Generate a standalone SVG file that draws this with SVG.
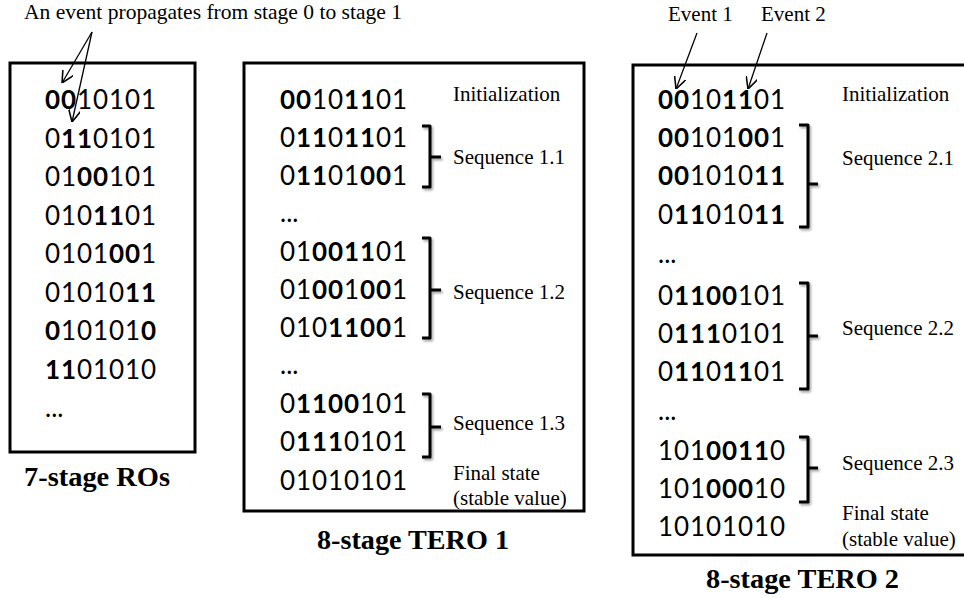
<svg xmlns="http://www.w3.org/2000/svg" width="964" height="598" viewBox="0 0 964 598">
  <style>
    .box { fill: #fff; stroke: #000; stroke-width: 3; }
    .bits { font-family: Lato, "Open Sans", sans-serif; font-size: 26px; fill: #000; }
    .bits .b { font-weight: bold; }
    .lbl { font-family: "Liberation Serif", "Times New Roman", serif; font-size: 21px; fill: #000; }
    .title { font-family: "Liberation Serif", "Times New Roman", serif; font-size: 27px; font-weight: bold; fill: #000; }
    .brk { fill: none; stroke: #000; stroke-width: 3; stroke-linejoin: round; filter: url(#shade); }
    .arw { fill: none; stroke: #000; stroke-width: 1.3; marker-end: url(#open); }
  </style>
  <defs>
    <marker id="open" markerWidth="12" markerHeight="12" refX="10" refY="5" orient="auto" markerUnits="userSpaceOnUse" viewBox="0 0 10 10">
      <path d="M0,0 L10,5 L0,10" fill="none" stroke="#000" stroke-width="1.3"/>
    </marker>
    <filter id="shade" x="-50%" y="-20%" width="200%" height="140%">
      <feDropShadow dx="1.5" dy="2" stdDeviation="1.2" flood-color="#000" flood-opacity="0.35"/>
    </filter>
  </defs>

  <!-- Annotation above the ring oscillator -->
  <text class="lbl" x="24" y="19" textLength="378" lengthAdjust="spacingAndGlyphs">An event propagates from stage 0 to stage 1</text>
  <text class="lbl" x="668" y="21">Event 1</text>
  <text class="lbl" x="761" y="21">Event 2</text>

  <!-- 7-stage ring oscillator -->
  <g id="ro7">
    <rect class="box" x="10" y="63" width="185" height="389"/>
    <g class="bits">
      <text x="45" y="109" textLength="111"><tspan class="b">00</tspan>10101</text>
      <text x="45" y="147.5" textLength="111">0<tspan class="b">11</tspan>0101</text>
      <text x="45" y="186" textLength="111">01<tspan class="b">00</tspan>101</text>
      <text x="45" y="224.5" textLength="111">010<tspan class="b">11</tspan>01</text>
      <text x="45" y="263" textLength="111">0101<tspan class="b">00</tspan>1</text>
      <text x="45" y="301.5" textLength="111">01010<tspan class="b">11</tspan></text>
      <text x="45" y="340" textLength="111"><tspan class="b">0</tspan>10101<tspan class="b">0</tspan></text>
      <text x="45" y="378.5" textLength="111"><tspan class="b">11</tspan>01010</text>
      <text x="45" y="417">...</text>
    </g>
    <text class="title" x="24" y="486" textLength="146" lengthAdjust="spacingAndGlyphs">7-stage ROs</text>
  </g>

  <!-- 8-stage TERO, case 1 -->
  <g id="tero1">
    <rect class="box" x="244" y="63" width="340" height="448"/>
    <g class="bits">
      <text x="280" y="109" textLength="127"><tspan class="b">00</tspan>10<tspan class="b">11</tspan>01</text>
      <text x="280" y="147" textLength="127">0<tspan class="b">11</tspan>0<tspan class="b">11</tspan>01</text>
      <text x="280" y="185" textLength="127">0<tspan class="b">11</tspan>01<tspan class="b">00</tspan>1</text>
      <text x="280" y="222">...</text>
      <text x="280" y="261" textLength="127">01<tspan class="b">0011</tspan>01</text>
      <text x="280" y="299" textLength="127">01<tspan class="b">00</tspan>1<tspan class="b">00</tspan>1</text>
      <text x="280" y="337" textLength="127">010<tspan class="b">1100</tspan>1</text>
      <text x="280" y="374">...</text>
      <text x="280" y="413" textLength="127">0<tspan class="b">1100</tspan>101</text>
      <text x="280" y="451" textLength="127">0<tspan class="b">111</tspan>0101</text>
      <text x="280" y="490" textLength="127">01010101</text>
    </g>
    <text class="lbl" x="453" y="101">Initialization</text>
    <text class="lbl" x="453" y="164">Sequence 1.1</text>
    <text class="lbl" x="453" y="299">Sequence 1.2</text>
    <text class="lbl" x="453" y="430">Sequence 1.3</text>
    <text class="lbl" x="453" y="480">Final state</text>
    <text class="lbl" x="453" y="505">(stable value)</text>
    <path class="brk" d="M422,126 H430 V187 H422 M430,157 H441"/>
    <path class="brk" d="M422,238 H430 V338 H422 M430,290 H441"/>
    <path class="brk" d="M422,394 H430 V457 H422 M430,427 H441"/>
    <text class="title" x="317" y="549" textLength="192" lengthAdjust="spacingAndGlyphs">8-stage TERO 1</text>
  </g>

  <!-- 8-stage TERO, case 2 -->
  <g id="tero2">
    <rect class="box" x="633" y="65" width="345" height="490"/>
    <g class="bits">
      <text x="658" y="109" textLength="127"><tspan class="b">00</tspan>10<tspan class="b">11</tspan>01</text>
      <text x="658" y="147" textLength="127"><tspan class="b">00</tspan>101<tspan class="b">00</tspan>1</text>
      <text x="658" y="185" textLength="127"><tspan class="b">00</tspan>1010<tspan class="b">11</tspan></text>
      <text x="658" y="224" textLength="127">0<tspan class="b">11</tspan>010<tspan class="b">11</tspan></text>
      <text x="658" y="263">...</text>
      <text x="658" y="305" textLength="127">0<tspan class="b">1100</tspan>101</text>
      <text x="658" y="343" textLength="127">0<tspan class="b">111</tspan>0101</text>
      <text x="658" y="381" textLength="127">0<tspan class="b">11</tspan>0<tspan class="b">11</tspan>01</text>
      <text x="658" y="420">...</text>
      <text x="658" y="460" textLength="127">101<tspan class="b">0011</tspan>0</text>
      <text x="658" y="498" textLength="127">101<tspan class="b">000</tspan>10</text>
      <text x="658" y="536" textLength="127">10101010</text>
    </g>
    <text class="lbl" x="842" y="101">Initialization</text>
    <text class="lbl" x="842" y="165">Sequence 2.1</text>
    <text class="lbl" x="842" y="335">Sequence 2.2</text>
    <text class="lbl" x="842" y="470">Sequence 2.3</text>
    <text class="lbl" x="842" y="520">Final state</text>
    <text class="lbl" x="842" y="546">(stable value)</text>
    <path class="brk" d="M799,125 H808 V227 H799 M808,184 H818"/>
    <path class="brk" d="M799,283 H808 V389 H799 M808,336 H818"/>
    <path class="brk" d="M799,437 H808 V502 H799 M808,468 H818"/>
    <text class="title" x="706" y="588" textLength="193" lengthAdjust="spacingAndGlyphs">8-stage TERO 2</text>
  </g>

  <!-- Pointers to the propagating events -->
  <g id="connectors">
    <line class="arw" x1="92" y1="32" x2="62" y2="83"/>
    <line class="arw" x1="92" y1="32" x2="72" y2="122"/>
    <line class="arw" x1="697" y1="33" x2="676" y2="89"/>
    <line class="arw" x1="767" y1="33" x2="748" y2="89"/>
  </g>
</svg>
